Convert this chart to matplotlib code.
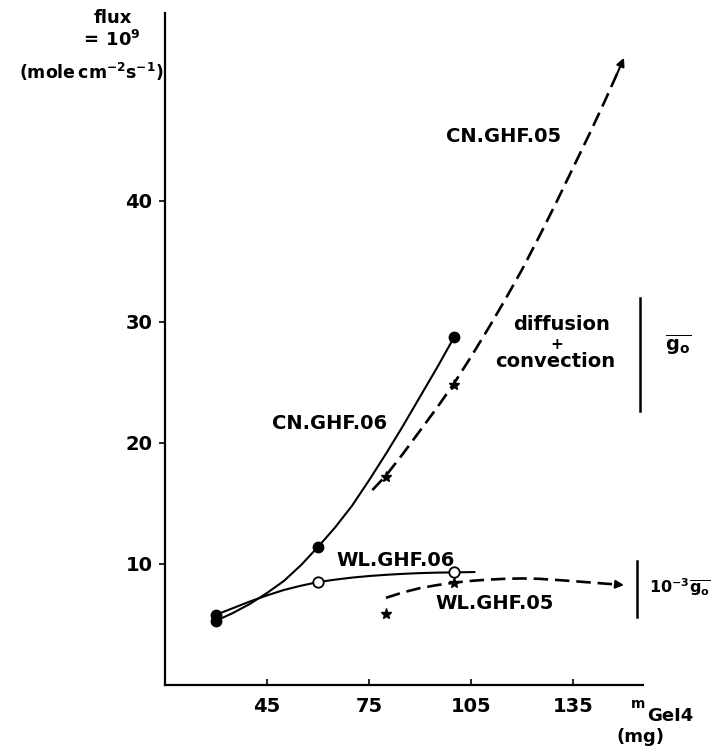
import matplotlib.pyplot as plt

plt.rcParams['font.family'] = 'DejaVu Sans'
plt.rcParams['font.weight'] = 'bold'
plt.rcParams['mathtext.fontset'] = 'dejavusans'

# measured points (m GeI4 in mg, flux x 1e9)
cn06_x = [30, 60, 100]
cn06_y = [5.3, 11.4, 28.7]
wl06_x = [30, 60, 100]
wl06_y = [5.8, 8.5, 9.3]
cn05_x = [80, 100]
cn05_y = [17.2, 24.8]
wl05_x = [80, 100]
wl05_y = [5.9, 8.4]

# hand drawn curves
cn06_cx = [30, 35, 40, 45, 50, 55, 60, 65, 70, 75, 80, 85, 90, 95, 100]
cn06_cy = [5.3, 5.95, 6.7, 7.6, 8.6, 9.9, 11.4, 13.0, 14.8, 16.9, 19.1, 21.4, 23.8, 26.2, 28.7]
wl06_cx = [30, 35, 40, 45, 50, 55, 60, 65, 70, 75, 80, 85, 90, 95, 100, 106]
wl06_cy = [5.8, 6.35, 6.9, 7.4, 7.85, 8.2, 8.5, 8.7, 8.87, 9.0, 9.1, 9.18, 9.24, 9.28, 9.3, 9.33]
cn05_cx = [76, 80, 85, 90, 95, 100, 105, 110, 115, 120, 125, 130, 135, 140, 144, 148]
cn05_cy = [16.1, 17.3, 19.1, 21.0, 22.9, 24.9, 27.1, 29.4, 31.8, 34.3, 37.0, 39.8, 42.7, 45.6, 48.0, 50.5]
wl05_cx = [80, 85, 90, 95, 100, 105, 110, 115, 120, 125, 130, 135, 140, 145, 148]
wl05_cy = [7.2, 7.65, 8.0, 8.25, 8.45, 8.6, 8.7, 8.77, 8.8, 8.77, 8.68, 8.58, 8.47, 8.36, 8.3]
cn05_tip = (150, 51.8)
wl05_tip = (150, 8.25)

xticks = [45, 75, 105, 135]
yticks = [10, 20, 30, 40]

fig = plt.figure(figsize=(7.2, 7.53), dpi=100)
ax = fig.add_axes([165/720, 1-685/753, (643-165)/720, 672/753])
ax.set_xlim(15, 155.6)
ax.set_ylim(0, 55.5)

dash = (0, (5.5, 2.6))
ax.plot(cn06_cx, cn06_cy, color='k', lw=1.5)
ax.plot(wl06_cx, wl06_cy, color='k', lw=1.5)
ax.plot(cn05_cx, cn05_cy, color='k', lw=1.9, linestyle=dash)
ax.plot(wl05_cx, wl05_cy, color='k', lw=1.9, linestyle=dash)

for tail, tip in [((cn05_cx[-1], cn05_cy[-1]), cn05_tip), ((wl05_cx[-1], wl05_cy[-1]), wl05_tip)]:
    ax.annotate('', xy=tip, xytext=tail,
                arrowprops=dict(arrowstyle='-|>', color='k', lw=1.5,
                                mutation_scale=12, shrinkA=0, shrinkB=0))

ax.plot(cn06_x, cn06_y, 'o', color='k', ms=7.5)
ax.plot(wl06_x[1:], wl06_y[1:], 'o', mfc='white', mec='k', mew=1.3, ms=7.5)
ax.plot(wl06_x[:1], wl06_y[:1], 'o', color='k', ms=7.5)
ax.plot(cn05_x, cn05_y, '*', color='k', ms=8)
ax.plot(wl05_x, wl05_y, '*', color='k', ms=8)

fs = 14
ax.text(97.8, 45.3, 'CN.GHF.05', fontsize=fs, va='center')
ax.text(46.4, 21.6, 'CN.GHF.06', fontsize=fs, va='center')
ax.text(65.5, 10.3, 'WL.GHF.06', fontsize=fs, va='center')
ax.text(94.4, 6.75, 'WL.GHF.05', fontsize=fs, va='center')
ax.text(131.7, 29.75, 'diffusion', fontsize=fs, ha='center', va='center')
ax.text(130.2, 28.1, '+', fontsize=11, ha='center', va='center')
ax.text(129.7, 26.7, 'convection', fontsize=fs, ha='center', va='center')

ax.plot([154.7, 154.7], [22.6, 32.0], color='k', lw=1.8, clip_on=False)
ax.plot([153.7, 153.7], [5.6, 10.2], color='k', lw=1.8, clip_on=False)
ax.text(162, 28.1, r'$\overline{\mathbf{g}_{\mathbf{o}}}$', fontsize=fs, va='center')
ax.text(157.3, 8.1, r'$\mathbf{10^{-3}}\overline{\mathbf{g}_{\mathbf{o}}}$',
        fontsize=11.5, va='center')

for s in ['top', 'right']:
    ax.spines[s].set_visible(False)
for s in ['left', 'bottom']:
    ax.spines[s].set_linewidth(1.6)

ax.set_xticks(xticks)
ax.set_yticks(yticks)
ax.tick_params(axis='x', direction='in', length=4, width=1.2, pad=9, labelsize=fs)
ax.tick_params(axis='y', direction='out', length=4, width=1.2, pad=5, labelsize=fs)

fig.text(113/720, 1-18/753, 'flux', fontsize=13, ha='center', va='center')
fig.text(110/720, 1-40/753, r'$\mathbf{=\,10^{9}}$', fontsize=13, ha='center', va='center')
fig.text(91/720, 1-72/753, r'$\mathbf{(mole\,cm^{-2}s^{-1})}$', fontsize=12.5,
         ha='center', va='center')
fig.text(638/720, 1-704/753, 'm', fontsize=10, ha='center', va='center')
fig.text(647/720, 1-716/753, 'GeI4', fontsize=13, ha='left', va='center')
fig.text(641/720, 1-737/753, '(mg)', fontsize=13, ha='center', va='center')

fig.savefig('out.png', dpi=100)
